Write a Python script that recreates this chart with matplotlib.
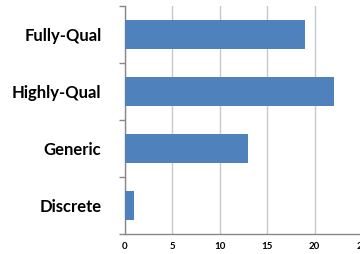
import matplotlib
matplotlib.use("Agg")
import matplotlib.pyplot as plt

categories = ["Discrete", "Generic", "Highly-Qual", "Fully-Qual"]
values = [1, 13, 22, 19]
xticks = [0, 5, 10, 15, 20, 25]

plt.rcParams['font.family'] = ['Lato', 'DejaVu Sans']

fig = plt.figure(figsize=(3.6, 2.54), dpi=100)
W, H = 360, 254
left, right, top, bottom = 125, 362, 6, 234
ax = fig.add_axes([left / W, 1 - bottom / H, (right - left) / W, (bottom - top) / H])

ypos = list(range(len(categories)))
ax.barh(ypos, values, height=0.5, color="#4F81BD", zorder=3)
ax.set_xlim(0, 25)
ax.set_ylim(-0.5, len(categories) - 0.5)
ax.set_xticks(xticks)
ax.set_xticklabels([str(t) for t in xticks], fontsize=7, fontweight="bold")
ax.set_yticks(ypos)
ax.set_yticklabels(categories, fontsize=12, fontweight="bold")
ax.tick_params(axis="y", length=0, pad=17)
ax.tick_params(axis="x", length=0, pad=6)
# category boundary ticks on the y axis
ax.set_yticks([i - 0.5 for i in range(len(categories) + 1)], minor=True)
ax.tick_params(axis="y", which="minor", length=4, color="#888888", width=1)

ax.grid(axis="x", color="#C8C8C8", linewidth=1, zorder=0)
for s in ["top", "right"]:
    ax.spines[s].set_visible(False)
for s in ["left", "bottom"]:
    ax.spines[s].set_color("#888888")
    ax.spines[s].set_linewidth(1)

fig.savefig("out.png", dpi=100)
